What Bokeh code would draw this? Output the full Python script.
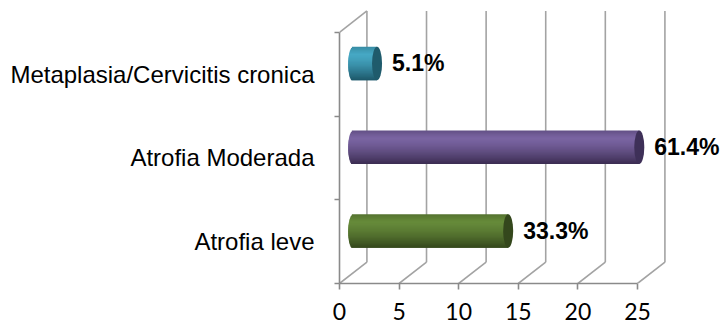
import math

from bokeh.core.properties import value
from bokeh.embed import file_html
from bokeh.models import FixedTicker, Range1d
from bokeh.plotting import figure
from bokeh.resources import INLINE

# ---- data ----
categories = ["Atrofia leve", "Atrofia Moderada", "Metaplasia/Cervicitis cronica"]
counts = [13, 24, 2]
pct_labels = ["33.3%", "61.4%", "5.1%"]
x_ticks = [0, 5, 10, 15, 20, 25]

# ---- styling ----
body_light = ["#668a3a", "#7a64a2", "#46a8c4"]
body_dark = ["#34481c", "#3a2c50", "#1c5668"]
cap_colors = ["#34471c", "#3e3058", "#1f5b6c"]
grid_color = "#a3a3a3"
axis_color = "#8a8a8a"

DEPTH_X = 2.3     # depth of the 3-D box, in value units
DEPTH_Y = 0.255   # depth of the 3-D box, in category units
BAR_H = 0.40      # cylinder diameter, in category units
CAP_A = 0.42      # horizontal half-width of the cylinder end ellipse
N_STRIPS = 28


def hex_rgb(h):
    h = h.lstrip("#")
    return tuple(int(h[i:i + 2], 16) for i in (0, 2, 4))


def mix(c1, c2, f):
    a, b = hex_rgb(c1), hex_rgb(c2)
    return "#%02x%02x%02x" % tuple(round(a[i] + (b[i] - a[i]) * f) for i in range(3))


def shade(t):
    # 0 at the highlight just below the top edge, 1 at the bottom edge
    if t < 0.22:
        return 0.35 * (1 - t / 0.22)
    return ((t - 0.22) / 0.78) ** 1.4


n_cat = len(categories)

p = figure(
    width=727, height=330,
    x_range=Range1d(0, 32.55), y_range=Range1d(0, 3.32),
    output_backend="svg", toolbar_location=None,
    min_border_left=339, min_border_right=0,
    min_border_top=5, min_border_bottom=47,
)
p.outline_line_color = None
p.xgrid.grid_line_color = None
p.ygrid.grid_line_color = None
p.background_fill_color = "white"
p.border_fill_color = "white"

# ---- 3-D box: floor diagonals, back-wall verticals, left-wall top edge ----
p.segment(x0=x_ticks, y0=[0] * len(x_ticks),
          x1=[v + DEPTH_X for v in x_ticks], y1=[DEPTH_Y] * len(x_ticks),
          line_color=grid_color, line_width=1.6)
p.segment(x0=[v + DEPTH_X for v in x_ticks], y0=[DEPTH_Y] * len(x_ticks),
          x1=[v + DEPTH_X for v in x_ticks], y1=[n_cat + DEPTH_Y] * len(x_ticks),
          line_color=grid_color, line_width=1.6)
p.segment(x0=[0], y0=[n_cat], x1=[DEPTH_X], y1=[n_cat + DEPTH_Y],
          line_color=grid_color, line_width=1.6)

# ---- cylinders: stacked horizontal strips give the shading ----
ys, lefts, rights, hs, cols = [], [], [], [], []
cap_x, cap_y = [], []
step = BAR_H / N_STRIPS
for i, c in enumerate(counts):
    yc = i + 0.5 + DEPTH_Y / 2
    x0 = DEPTH_X / 2
    x1 = c + DEPTH_X / 2
    cap_x.append(x1)
    cap_y.append(yc)
    for k in range(N_STRIPS):
        t = (k + 0.5) / N_STRIPS
        # each strip reaches down over its neighbour so no seams show
        top = yc + BAR_H / 2 - k * step
        bottom = max(yc - BAR_H / 2, top - 2.2 * step)
        ys.append((top + bottom) / 2)
        hs.append(top - bottom)
        bulge = CAP_A * math.sqrt(max(0.0, 1 - (2 * t - 1) ** 2))
        lefts.append(x0 - bulge)
        rights.append(x1)
        cols.append(mix(body_light[i], body_dark[i], shade(t)))

p.hbar(y=ys, left=lefts, right=rights, height=hs,
       fill_color=cols, line_color=None)
p.ellipse(x=cap_x, y=cap_y, width=2 * CAP_A, height=BAR_H,
          fill_color=cap_colors, line_color=None)

p.text(x=cap_x, y=cap_y, text=pct_labels, x_offset=15,
       text_baseline="middle", text_align="left",
       text_font=value("Liberation Sans"), text_font_style="bold",
       text_font_size="23px", text_color="black")

# ---- axes ----
xa = p.xaxis[0]
xa.ticker = FixedTicker(ticks=x_ticks)
xa.bounds = (0, 25)
xa.axis_line_color = axis_color
xa.axis_line_width = 1.6
xa.major_tick_line_color = axis_color
xa.major_tick_line_width = 1.6
xa.major_tick_out = 6
xa.major_tick_in = 0
xa.minor_tick_line_color = None
xa.major_label_standoff = 13
xa.major_label_text_font = "Lato"
xa.major_label_text_font_size = "23px"
xa.major_label_text_color = "black"

ya = p.yaxis[0]
ya.ticker = FixedTicker(ticks=[i + 0.5 for i in range(n_cat)],
                        minor_ticks=list(range(n_cat + 1)))
ya.bounds = (0, n_cat)
ya.major_label_overrides = {i + 0.5: name for i, name in enumerate(categories)}
ya.axis_line_color = axis_color
ya.axis_line_width = 1.6
ya.major_tick_line_color = None
ya.major_tick_out = 0
ya.major_tick_in = 0
ya.minor_tick_line_color = axis_color
ya.minor_tick_line_width = 1.6
ya.minor_tick_out = 5
ya.minor_tick_in = 0
ya.major_label_standoff = 20
ya.major_label_text_font = "Liberation Sans"
ya.major_label_text_font_size = "24px"
ya.major_label_text_color = "black"

open("out.html", "w").write(file_html(p, INLINE))
